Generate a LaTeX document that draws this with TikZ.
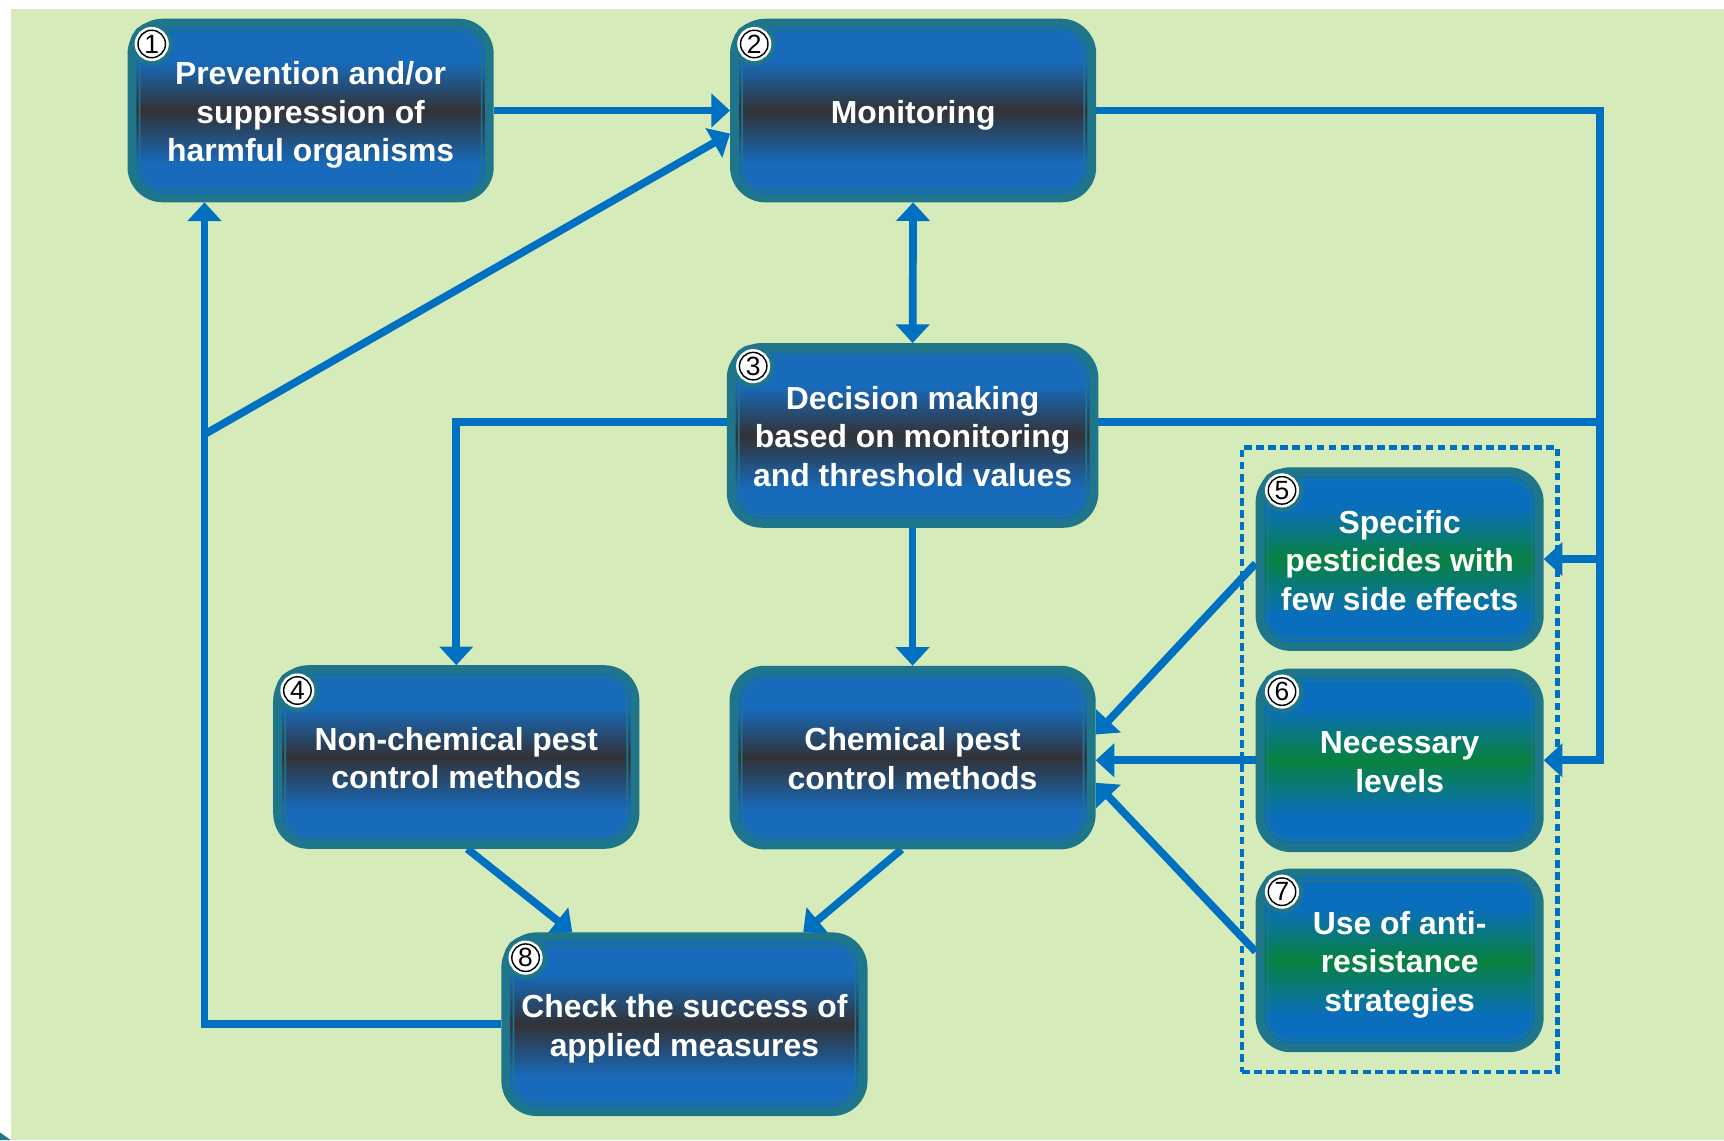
\documentclass[tikz,border=0pt]{standalone}
\usepackage{fontspec}
\setmainfont{Liberation Sans}
\usetikzlibrary{arrows.meta,calc,fit}
\definecolor{bgc}{RGB}{214,235,186}
\definecolor{bordc}{RGB}{31,118,138}
\definecolor{boxblue}{RGB}{24,106,186}
\definecolor{boxdark}{RGB}{50,50,54}
\definecolor{gblue}{RGB}{10,110,190}
\definecolor{ggreen}{RGB}{8,130,62}
\definecolor{conblue}{RGB}{0,112,192}
\newcommand{\tup}{\rule{0pt}{29pt}}
\newcommand{\tupb}{\rule{0pt}{23pt}}
\pgfdeclareverticalshading{bluedark}{100bp}{color(0bp)=(boxblue); color(25bp)=(boxblue); color(35bp)=(boxblue); color(50bp)=(boxdark); color(64bp)=(boxblue); color(75bp)=(boxblue); color(100bp)=(boxblue)}
\pgfdeclareverticalshading{bluegreen}{100bp}{color(0bp)=(gblue); color(25bp)=(gblue); color(34bp)=(gblue); color(50bp)=(ggreen); color(65bp)=(gblue); color(75bp)=(gblue); color(100bp)=(gblue)}
\pgfdeclarelayer{back}
\pgfdeclarelayer{conns}
\pgfsetlayers{back,conns,main}
\begin{document}
\begin{tikzpicture}[x=1pt,y=-1pt,
  box/.style={draw=bordc, line width=8pt, rounded corners=28pt, shade, shading=bluedark,
    minimum width=325pt, minimum height=159pt, inner sep=0pt, text=white, align=center,
    font=\bfseries\fontsize{29}{35}\selectfont},
  gbox/.style={box, shading=bluegreen, minimum width=254pt},
  innerl/.style={draw=bordc, line width=1.5pt, rounded corners=20pt},
  numc/.style={circle, fill=white, draw=black, line width=1.3pt, minimum size=25pt, inner sep=0pt,
    font=\fontsize{24}{24}\selectfont, text=black,
    preaction={draw=bordc, line width=14pt}, preaction={draw=white, line width=6pt}},
  conn/.style={draw=conblue, line width=7pt},
  arr/.style={-{Triangle[length=17pt,width=30pt]}},
  darr/.style={{Triangle[length=17pt,width=30pt]}-{Triangle[length=17pt,width=30pt]}},
  grpbox/.style={draw=conblue, line width=4pt, dash pattern=on 7pt off 4pt, inner xsep=12.5pt, inner ysep=18pt}
]
\useasboundingbox (0,0) rectangle (1568,1037);
\begin{pgfonlayer}{back}
  \fill[bgc] (10,8) rectangle (1568,1037);
  \fill[bordc] (0,1030) -- (10,1037) -- (0,1037) -- cycle;
\end{pgfonlayer}

% boxes
\node[box] (n1) at (282.5,100.5) {\tup Prevention and/or\\suppression of\\harmful organisms};
\node[box] (n2) at (830.5,100.5) {\tup Monitoring};
\node[box, minimum width=330pt, minimum height=160pt] (n3) at (830,396) {\tupb Decision making\\based on monitoring\\and threshold values};
\node[box] (n4) at (415,688.5) {\tupb Non-chemical pest\\control methods};
\node[box] (nc) at (830,689) {\tupb Chemical pest\\control methods};
\node[box] (n8) at (622.5,931.5) {\tup Check the success of\\applied measures};
\node[gbox] (n5) at (1273,508.5) {\tupb Specific\\pesticides with\\few side effects};
\node[gbox] (n6) at (1273,691.5) {\tupb Necessary\\levels};
\node[gbox] (n7) at (1273,873.5) {\tup Use of anti-\\resistance\\strategies};

\foreach \n in {n1,n2,n3,n4,nc,n8,n5,n6,n7}
  \draw[innerl] ($(\n.north west)+(11,11)$) rectangle ($(\n.south east)+(-11,-11)$);

% circled numbers
\node[numc] (c1) at ($(n1.north west)+(22,23)$) {1};
\node[numc] (c2) at ($(n2.north west)+(22,23)$) {2};
\node[numc] (c3) at ($(n3.north west)+(24,21)$) {3};
\node[numc] (c4) at ($(n4.north west)+(22,23)$) {4};
\node[numc] (c8) at ($(n8.north west)+(22,23)$) {8};
\node[numc] (c5) at ($(n5.north west)+(24,21)$) {5};
\node[numc] (c6) at ($(n6.north west)+(24,21)$) {6};
\node[numc] (c7) at ($(n7.north west)+(24,21)$) {7};

% dashed group
\node[grpbox, fit=(n5)(n7)] (grp) {};

% connectors
\coordinate (rx) at (1455,100);
\coordinate (lp) at (186,395);
\begin{pgfonlayer}{conns}
  \draw[conn,arr] (n1.east) -- (n2.west);
  \draw[conn,darr] (n2.south) -- (n3.north);
  \draw[conn,arr] (n2.east) -| ($(n6.east -| rx)$) -- (n6.east);
  \draw[conn,arr] ($(n5.east -| rx)$) -- (n5.east);
  \draw[conn] ($(n3.east)+(0,-12)$) -- ($(n3.east -| rx)+(0,-12)$);
  \draw[conn,arr] ($(n3.west)+(0,-12)$) -| (n4.north);
  \draw[conn,arr] (n3.south) -- (nc.north);
  \draw[conn,arr] (n8.west) -| (n1.south -| lp);
  \draw[conn,arr] (lp) -- ($(n2.west)+(0,21)$);
  \draw[conn,arr] ($(n4.south)+(10,0)$) -- ($(n8.north)+(-102,0)$);
  \draw[conn,arr] ($(nc.south)+(-10,0)$) -- ($(n8.north)+(108,0)$);
  \draw[conn,arr] ($(n5.west)+(0,4)$) -- ($(nc.east)+(0,-21)$);
  \draw[conn,arr] (n6.west) -- (n6.west -| nc.east);
  \draw[conn,arr] ($(n7.west)+(0,-8)$) -- ($(nc.east)+(0,23)$);
\end{pgfonlayer}
\end{tikzpicture}
\end{document}
